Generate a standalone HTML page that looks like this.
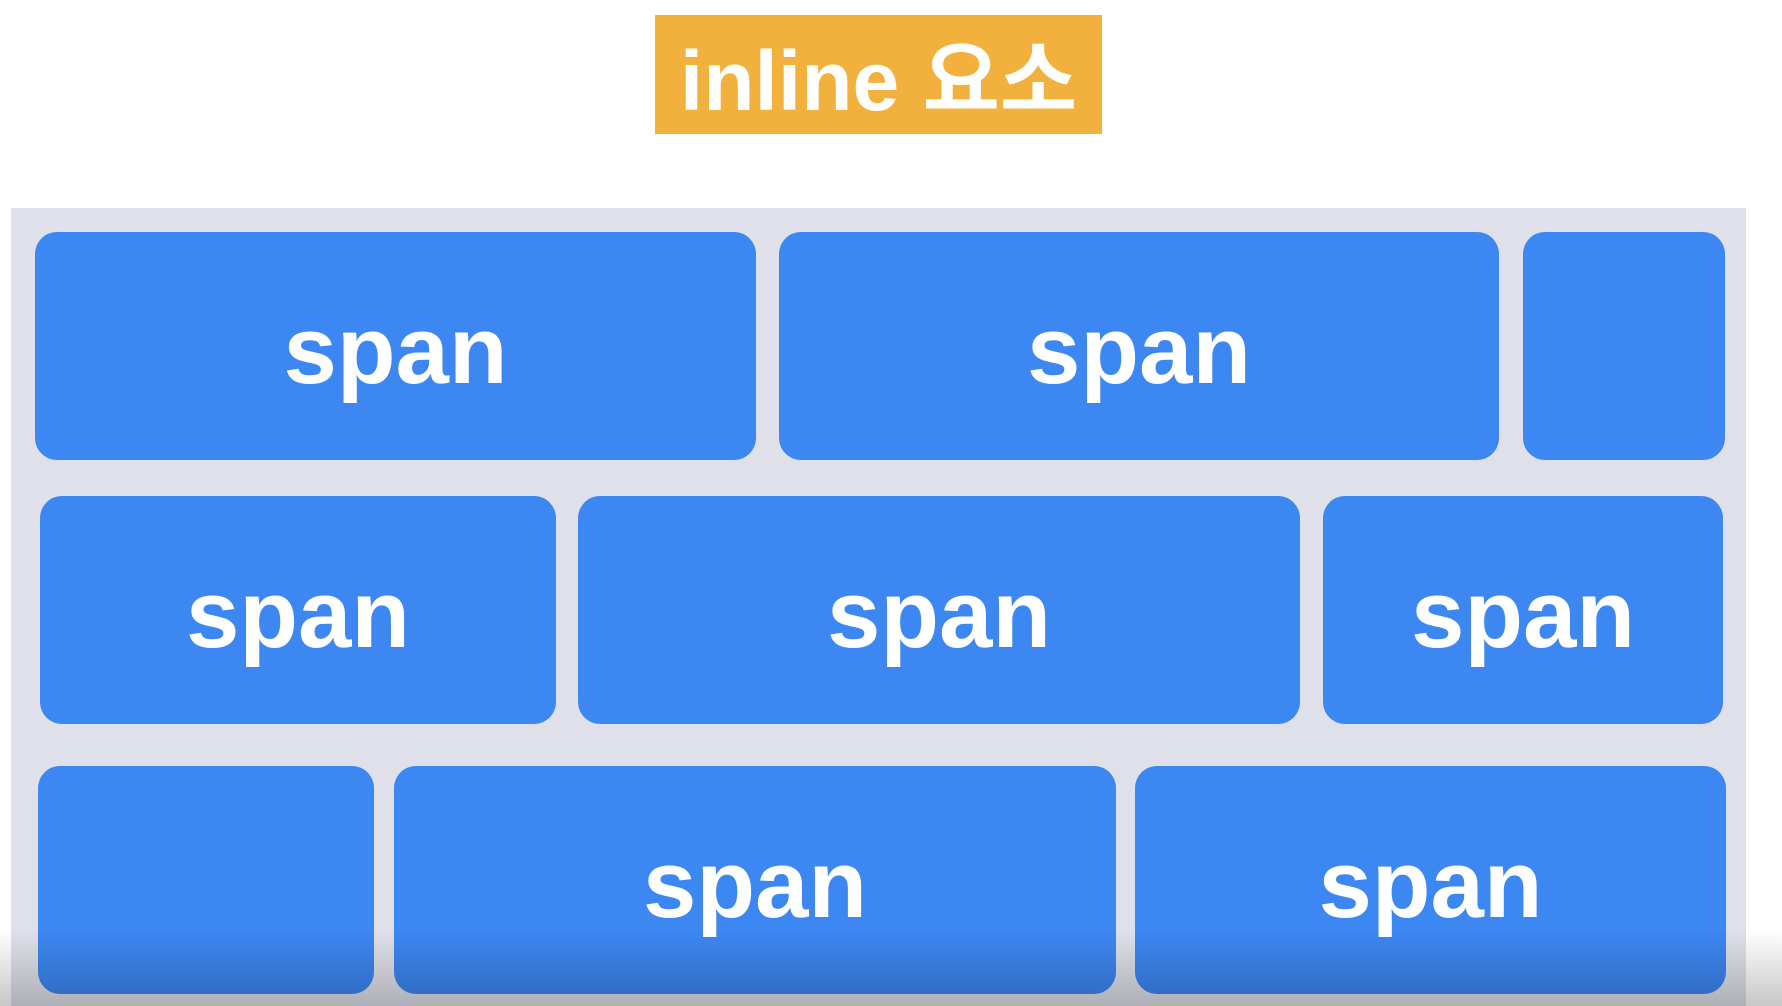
<!DOCTYPE html>
<html><head><meta charset="utf-8"><style>
body{margin:0;width:1782px;height:1006px;background:#fff;position:relative;overflow:hidden;font-family:"Liberation Sans","Noto Sans CJK KR",sans-serif}
.t{position:absolute;left:655px;top:15px;width:447px;height:119px;background:#f2b13c;color:#fff;font-size:84px;font-weight:bold;display:flex;align-items:center;justify-content:center}
.g{position:absolute;left:11px;top:208px;width:1735px;height:798px;background:#e0e0ea}
.b{position:absolute;background:#3d87f2;border-radius:22px;color:#fff;font-weight:bold;font-size:96px;display:flex;align-items:center;justify-content:center;padding-top:10px;box-sizing:border-box}
.f{position:absolute;left:0;top:930px;width:1782px;height:76px;background:linear-gradient(rgba(0,0,0,0),rgba(0,0,0,0.22))}
</style></head><body>
<div class="t">inline 요소</div>
<div class="g"></div>
<div class="b" style="left:35px;top:232px;width:721px;height:228px">span</div>
<div class="b" style="left:779px;top:232px;width:720px;height:228px">span</div>
<div class="b" style="left:1523px;top:232px;width:202px;height:228px"></div>
<div class="b" style="left:40px;top:496px;width:516px;height:228px">span</div>
<div class="b" style="left:578px;top:496px;width:722px;height:228px">span</div>
<div class="b" style="left:1323px;top:496px;width:400px;height:228px">span</div>
<div class="b" style="left:38px;top:766px;width:336px;height:228px"></div>
<div class="b" style="left:394px;top:766px;width:722px;height:228px">span</div>
<div class="b" style="left:1135px;top:766px;width:591px;height:228px">span</div>
<div class="f"></div>
</body></html>
